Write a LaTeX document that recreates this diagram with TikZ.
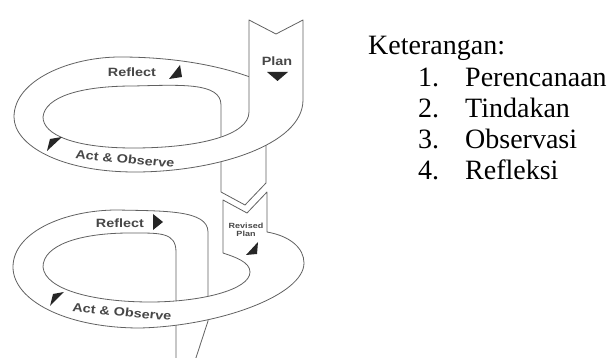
\documentclass[tikz,border=0pt]{standalone}
\usepackage{fontspec}
\setmainfont{Liberation Serif}
\newfontfamily\lblfont{Liberation Sans}
\begin{document}
\begin{tikzpicture}[x=1pt,y=-1pt,line join=round,
  band/.style={draw=black!62,line width=0.8pt,fill=white},
  tri/.style={fill=black!85,draw=none},
  lab/.style={font=\lblfont\bfseries\fontsize{12}{12}\selectfont,text=black!72,inner sep=0pt,xscale=1.2},
  small/.style={font=\lblfont\bfseries\fontsize{7.5}{8.5}\selectfont,text=black!72,inner sep=0pt,xscale=1.2,align=center},
  legend/.style={font=\fontsize{28}{28}\selectfont,inner sep=0pt,anchor=base west}]
\useasboundingbox (0,0) rectangle (614,358);
\clip (0,0) rectangle (614,358);
% lower loop: back band (Reflect) and descending ribbon
\path[band] (43,267) .. controls (43,245) and (80,233) .. (130,233)
  .. controls (160,233) and (176,232) .. (176,252) -- (176,370) -- (192,370)
  -- (208,321) -- (208,232) .. controls (208,210) and (165,211) .. (117,210)
  .. controls (65,210) and (13,232) .. (13,267);
% lower loop: Revised Plan arrow and front band (Act & Observe)
\path[band] (43,267) .. controls (45,290) and (95,302) .. (150,302)
  .. controls (200,302) and (250,290) .. (250,272)
  .. controls (250,262) and (235,257) .. (223,253) -- (223,200) -- (247,213)
  -- (267,192) -- (267,232) .. controls (290,236) and (304,248) .. (304,263)
  .. controls (304,295) and (220,326) .. (140,328)
  .. controls (65,328) and (13,300) .. (13,267);
% upper loop: back band (Reflect) and descending ribbon
\path[band] (43,117) .. controls (45,97) and (80,86) .. (133,86)
  .. controls (180,85) and (221,82) .. (221,105) -- (221,192) -- (245,205)
  -- (266,183) -- (266,90) -- (258,80) .. controls (215,63) and (165,57) .. (120,57)
  .. controls (70,57) and (14,80) .. (14,117);
% upper loop: Plan arrow and front band (Act & Observe)
\path[band] (43,117) .. controls (43,135) and (75,148) .. (133,148)
  .. controls (200,148) and (249,135) .. (249,112) -- (249,20) -- (276,34)
  -- (303,20) -- (303,100) .. controls (303,145) and (215,172) .. (135,172)
  .. controls (60,172) and (14,145) .. (14,117);
% direction marks
\fill[tri] (169,79) -- (180,65) -- (182,77) -- cycle;
\fill[tri] (267,72) -- (288,72) -- (277.5,81) -- cycle;
\fill[tri] (47,151) -- (50,139) -- (62,137) -- cycle;
\fill[tri] (153,214) -- (163,222) -- (153,230) -- cycle;
\fill[tri] (246,255) -- (258,242) -- (257,254) -- cycle;
\fill[tri] (50,306) -- (53,294) -- (64,292) -- cycle;
% labels
\node[lab] (plan1) at (277,61) {Plan};
\node[lab] (reflect1) at (132,72) {Reflect};
\node[lab,rotate=-6] (act1) at (125,159) {Act \& Observe};
\node[lab] (reflect2) at (120,223) {Reflect};
\node[lab,rotate=-6] (act2) at (122,312) {Act \& Observe};
\node[small] (rplan) at (246,230) {Revised\\Plan};
% legend
\node[legend] (ket) at (368,55) {Keterangan:};
\node[legend] (n1) at (418,87) {1.};
\node[legend] (t1) at (465,87) {Perencanaan};
\node[legend] (n2) at (418,118) {2.};
\node[legend] (t2) at (465,118) {Tindakan};
\node[legend] (n3) at (418,149) {3.};
\node[legend] (t3) at (465,149) {Observasi};
\node[legend] (n4) at (418,180) {4.};
\node[legend] (t4) at (465,180) {Refleksi};
\end{tikzpicture}
\end{document}
